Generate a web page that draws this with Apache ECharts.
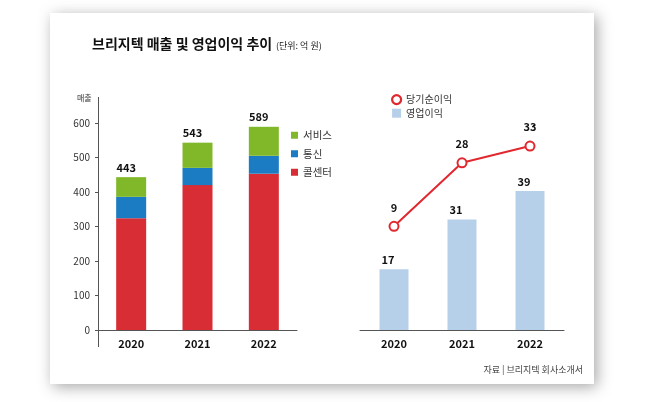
<!DOCTYPE html>
<html>
<head>
<meta charset="utf-8">
<script src="https://cdn.jsdelivr.net/npm/echarts@6/dist/echarts.min.js"></script>
<style>
  html, body { margin: 0; padding: 0; background: #fff; }
  #chartmain { width: 650px; height: 402px; }
</style>
</head>
<body>
<div id="chartmain"></div>
<script>
var years = ['2020', '2021', '2022'];
// 매출 구성 (억 원)
var callCenter = [324, 420, 453];
var telecom = [62, 50, 52];
var service = [57, 73, 84];
var salesTotal = [443, 543, 589];
// 이익 (억 원)
var opProfit = [17, 31, 39];
var netProfit = [9, 28, 33];
var salesTicks = [0, 100, 200, 300, 400, 500, 600];

var font = 'Noto Sans CJK KR';
var red = '#d92d35', blue = '#1b7bc3', green = '#80b82a', lightBlue = '#b7d0ea', lineRed = '#e0282e';

var option = {
	backgroundColor : '#fff',
	textStyle : { fontFamily : font },
	animation : false,
	graphic : [
		{ type : 'rect', z : -10, shape : { x : 50, y : 13, width : 544, height : 371 },
		  style : { fill : '#fff', shadowBlur : 14, shadowColor : 'rgba(0,0,0,0.35)', shadowOffsetX : 3, shadowOffsetY : 3 } },
		{ type : 'text', left : 92, top : 37,
		  style : { text : '브리지텍 매출 및 영업이익 추이', font : 'bold 14px "Noto Sans CJK KR"', fill : '#111' } },
		{ type : 'text', left : 276, top : 41,
		  style : { text : '(단위: 억 원)', font : '9px "Noto Sans CJK KR"', fill : '#222' } },
		{ type : 'text', left : 77, top : 94,
		  style : { text : '매출', font : '8px "Noto Sans CJK KR"', fill : '#333' } },
		{ type : 'line', shape : { x1 : 98.5, y1 : 97, x2 : 98.5, y2 : 347 },
		  style : { stroke : '#555', lineWidth : 1 } },
		{ type : 'text', right : 67, top : 365,
		  style : { text : '자료 | 브리지텍 회사소개서', font : '9px "Noto Sans CJK KR"', fill : '#444' } }
	],
	legend : [
		{ data : ['서비스', '통신', '콜센터'], orient : 'vertical', left : 286, top : 125,
		  itemWidth : 7, itemHeight : 7, itemGap : 8, icon : 'rect',
		  textStyle : { fontSize : 10.5, color : '#333', fontFamily : font } },
		{ data : [
			{ name : '당기순이익', icon : 'circle', itemStyle : { color : '#fff', borderColor : lineRed, borderWidth : 2.2 } },
			{ name : '영업이익', icon : 'rect' }],
		  orient : 'vertical', left : 386, top : 89,
		  itemWidth : 9, itemHeight : 9, itemGap : 3,
		  textStyle : { fontSize : 10, color : '#333', fontFamily : font } }
	],
	grid : [
		{ left : 98, right : 353, top : 123, bottom : 72 },
		{ left : 360, right : 86, top : 116, bottom : 72 }
	],
	xAxis : [
		{ type : 'category', gridIndex : 0, data : years,
		  axisLine : { lineStyle : { color : '#555' } },
		  axisTick : { length : 4, lineStyle : { color : '#555' } },
		  axisLabel : { margin : 8, fontSize : 11, fontWeight : 'bold', color : '#111' } },
		{ type : 'category', gridIndex : 1, data : years,
		  axisLine : { lineStyle : { color : '#555' } },
		  axisTick : { length : 4, lineStyle : { color : '#555' } },
		  axisLabel : { margin : 8, fontSize : 11, fontWeight : 'bold', color : '#111' } }
	],
	yAxis : [
		{ type : 'value', gridIndex : 0, min : salesTicks[0], max : salesTicks[salesTicks.length - 1], interval : 100,
		  axisLine : { show : false },
		  axisTick : { show : true, length : 3, lineStyle : { color : '#555' } },
		  splitLine : { show : false },
		  axisLabel : { fontSize : 10, color : '#333', margin : 8 } },
		{ type : 'value', gridIndex : 1, min : 0, max : 60, show : false, splitLine : { show : false } },
		{ type : 'value', gridIndex : 1, min : -22, max : 42, show : false, splitLine : { show : false } }
	],
	series : [
		{ name : '콜센터', type : 'bar', stack : 'sales', xAxisIndex : 0, yAxisIndex : 0,
		  data : callCenter, barWidth : 30, itemStyle : { color : red } },
		{ name : '통신', type : 'bar', stack : 'sales', xAxisIndex : 0, yAxisIndex : 0,
		  data : telecom, itemStyle : { color : blue } },
		{ name : '서비스', type : 'bar', stack : 'sales', xAxisIndex : 0, yAxisIndex : 0,
		  data : service, itemStyle : { color : green },
		  label : { show : true, position : 'top', distance : 4, offset : [-5, 0],
		            fontSize : 11, fontWeight : 'bold', color : '#111',
		            formatter : function(p) { return salesTotal[p.dataIndex]; } } },
		{ name : '영업이익', type : 'bar', xAxisIndex : 1, yAxisIndex : 1,
		  data : opProfit, barWidth : 29, itemStyle : { color : lightBlue },
		  label : { show : true, position : 'top', distance : 4, offset : [-6, 0],
		            fontSize : 11, fontWeight : 'bold', color : '#111' } },
		{ name : '당기순이익', type : 'line', xAxisIndex : 1, yAxisIndex : 2,
		  data : netProfit, symbol : 'circle', symbolSize : 9,
		  lineStyle : { color : lineRed, width : 2 },
		  itemStyle : { color : '#fff', borderColor : lineRed, borderWidth : 2 },
		  label : { show : true, position : 'top', distance : 8,
		            fontSize : 11, fontWeight : 'bold', color : '#111' } }
	]
};

var myChart = echarts.init(document.getElementById('chartmain'));
myChart.setOption(option);
</script>
</body>
</html>
